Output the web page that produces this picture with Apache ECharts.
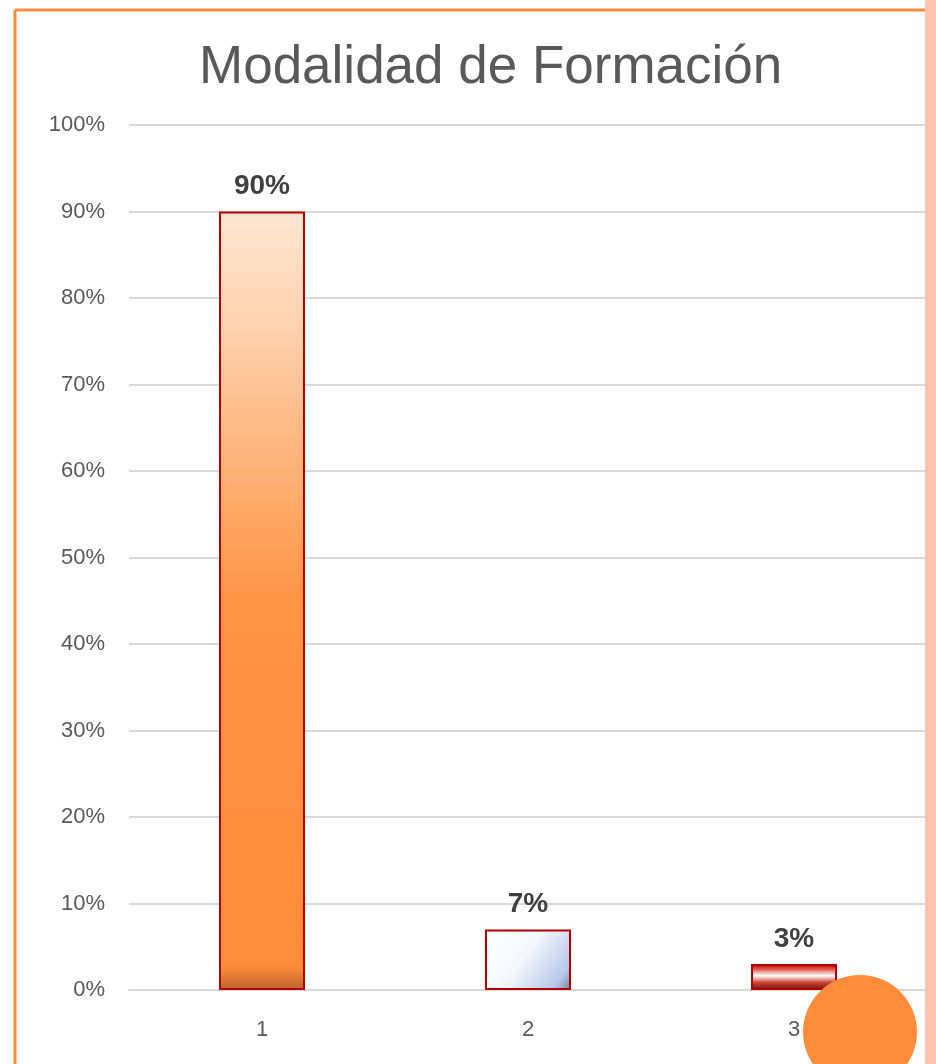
<!DOCTYPE html>
<html>
<head>
<meta charset="utf-8">
<script src="https://cdn.jsdelivr.net/npm/echarts@6/dist/echarts.min.js"></script>
<style>
  html, body { margin: 0; padding: 0; background: #fff; }
  #chart { width: 936px; height: 1064px; }
</style>
</head>
<body>
<div id="chart"></div>
<script>
// datos del gráfico
const categories = ['1', '2', '3'];
const values = [0.90, 0.07, 0.03];
const yTicks = [0, 0.1, 0.2, 0.3, 0.4, 0.5, 0.6, 0.7, 0.8, 0.9, 1.0];

const chart = echarts.init(document.getElementById('chart'));

// relleno de cada barra (imitando el biselado de Excel)
const fills = [
  {
    type: 'linear', x: 0, y: 0, x2: 0, y2: 1,
    colorStops: [
      { offset: 0, color: '#FFE6D2' },
      { offset: 0.12, color: '#FFD6B6' },
      { offset: 0.5, color: '#FF9443' },
      { offset: 0.97, color: '#FF8C3A' },
      { offset: 1, color: '#B8652C' },
    ],
  },
  {
    type: 'linear', x: 0, y: 0, x2: 1, y2: 1,
    colorStops: [
      { offset: 0, color: '#FFFFFF' },
      { offset: 0.45, color: '#F4F7FD' },
      { offset: 0.85, color: '#B8C9EA' },
      { offset: 1, color: '#6E7F9F' },
    ],
  },
  {
    type: 'linear', x: 0, y: 0, x2: 0, y2: 1,
    colorStops: [
      { offset: 0, color: '#C00000' },
      { offset: 0.2, color: '#E0584A' },
      { offset: 0.45, color: '#FFFFFF' },
      { offset: 0.7, color: '#D0483A' },
      { offset: 1, color: '#6A1008' },
    ],
  },
];

const option = {
  animation: false,
  title: {
    text: 'Modalidad de Formación',
    left: 194,
    top: 37,
    textStyle: {
      fontFamily: 'Liberation Sans',
      fontSize: 53,
      fontWeight: 'normal',
      color: '#595959',
    },
  },
  grid: {
    left: 129,
    right: 9,
    top: 125,
    bottom: 74,
    containLabel: false,
  },
  xAxis: {
    type: 'category',
    data: categories,
    axisTick: { show: false },
    axisLine: { lineStyle: { color: '#D9D9D9', width: 2 } },
    axisLabel: {
      fontFamily: 'Liberation Sans',
      fontSize: 22,
      color: '#595959',
      margin: 29,
    },
  },
  yAxis: {
    type: 'value',
    min: yTicks[0],
    max: yTicks[yTicks.length - 1],
    interval: yTicks[1] - yTicks[0],
    axisLine: { show: false },
    axisTick: { show: false },
    splitLine: { lineStyle: { color: '#D9D9D9', width: 2 } },
    axisLabel: {
      fontFamily: 'Liberation Sans',
      fontSize: 22,
      color: '#595959',
      margin: 24,
      formatter: v => Math.round(v * 100) + '%',
    },
  },
  series: [
    {
      type: 'bar',
      barWidth: 86,
      data: values.map((v, i) => ({
        value: v,
        itemStyle: {
          color: fills[i],
          borderColor: '#B00000',
          borderWidth: 2,
        },
      })),
      label: {
        show: true,
        position: 'top',
        distance: 11,
        fontFamily: 'Liberation Sans',
        fontSize: 28,
        fontWeight: 'bold',
        color: '#404040',
        formatter: p => Math.round(p.value * 100) + '%',
      },
    },
  ],
  graphic: [
    // marco naranja
    { type: 'line', shape: { x1: 15, y1: 10, x2: 936, y2: 10 }, style: { stroke: '#FF8C3A', lineWidth: 3 }, z: 100 },
    { type: 'line', shape: { x1: 15, y1: 10, x2: 15, y2: 1064 }, style: { stroke: '#FF8C3A', lineWidth: 3 }, z: 100 },
    // franja rosada a la derecha
    { type: 'rect', shape: { x: 925, y: 0, width: 11, height: 1064 }, style: { fill: '#FFC3AE' }, z: 100 },
    // círculo naranja
    { type: 'circle', shape: { cx: 860, cy: 1032, r: 57 }, style: { fill: '#FF8C3A' }, z: 100 },
  ],
};

chart.setOption(option);
</script>
</body>
</html>
